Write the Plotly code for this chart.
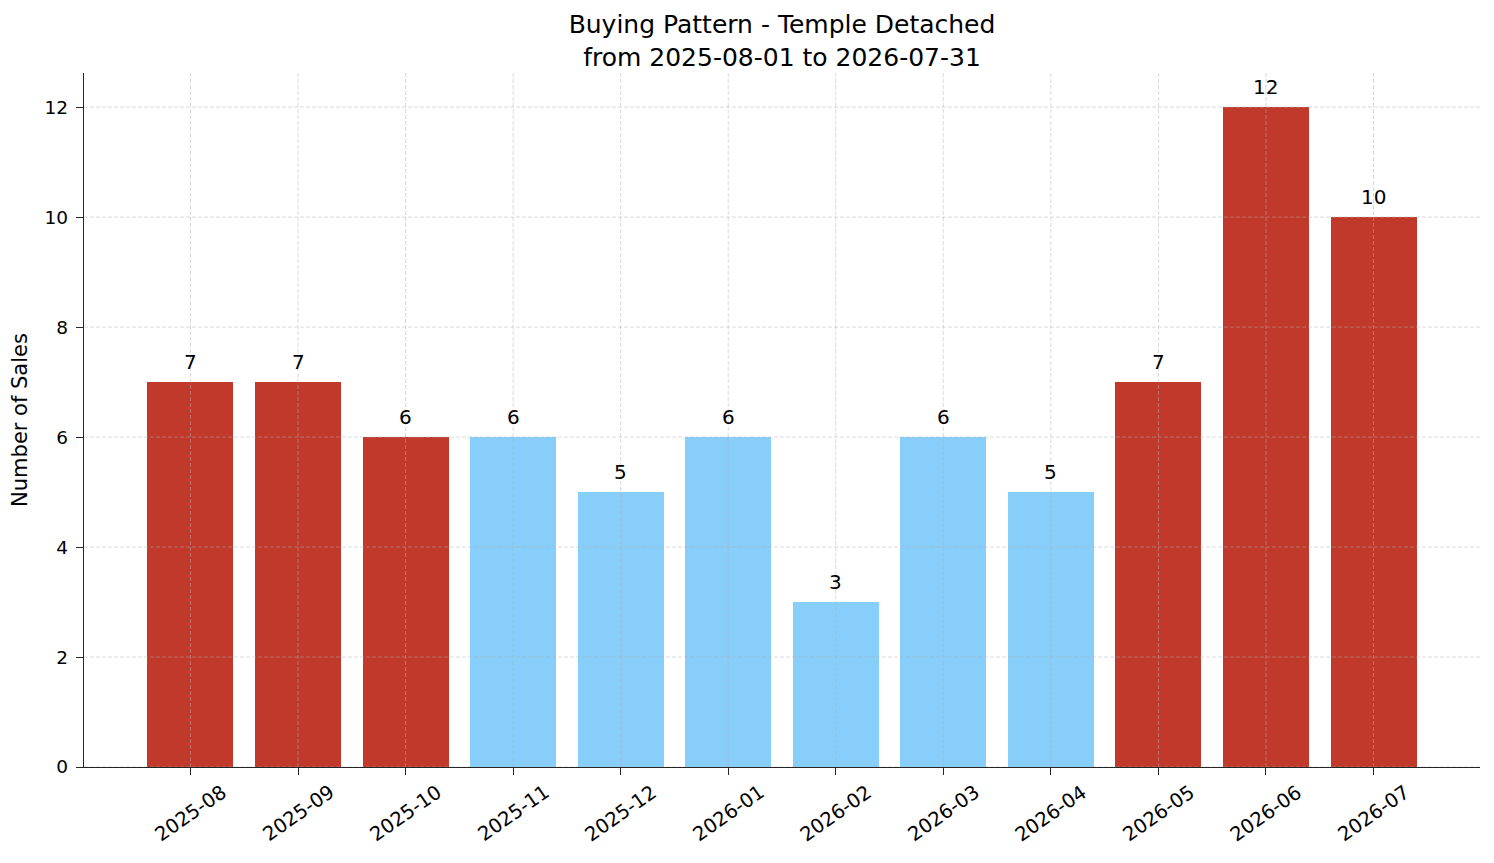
import plotly.graph_objects as go

months = ["2025-08", "2025-09", "2025-10", "2025-11", "2025-12", "2026-01",
          "2026-02", "2026-03", "2026-04", "2026-05", "2026-06", "2026-07"]
sales = [7, 7, 6, 6, 5, 6, 3, 6, 5, 7, 12, 10]
# red = busy month, blue = quiet month
busy = [True, True, True, False, False, False, False, False, False, True, True, True]
y_ticks = [0, 2, 4, 6, 8, 10, 12]

RED = "#c0392b"
BLUE = "#87cefa"
FONT = "DejaVu Sans"
GRID = "rgba(176,176,176,0.6)"
AXIS = "#262626"

xs = list(range(len(months)))
colors = [RED if b else BLUE for b in busy]
x_range = [-0.99, 11.99]
y_range = [0, 12.62]

fig = go.Figure()
fig.add_trace(go.Bar(
    x=xs, y=sales, width=0.8, marker_color=colors, marker_line_width=0,
    showlegend=False, hoverinfo="x+y",
))

# value labels above bars
for i, v in enumerate(sales):
    fig.add_annotation(x=i, y=v, text=str(v), showarrow=False,
                       yanchor="bottom", yshift=6,
                       font=dict(family=FONT, size=20, color="black"))

# tick labels as rotated annotations, centred under each tick like matplotlib
for i, m in enumerate(months):
    fig.add_annotation(x=i, y=0, xref="x", yref="paper", text=m,
                       textangle=-35, showarrow=False, xanchor="center",
                       yanchor="top", yshift=-11,
                       font=dict(family=FONT, size=19.5, color="black"))

# matplotlib draws the grid on top of the bars here
for i in xs:
    fig.add_shape(type="line", x0=i, x1=i, y0=y_range[0], y1=y_range[1],
                  xref="x", yref="y", layer="above",
                  line=dict(color=GRID, width=0.8, dash="4px,2px"))
for t in y_ticks:
    fig.add_shape(type="line", x0=x_range[0], x1=x_range[1], y0=t, y1=t,
                  xref="x", yref="y", layer="above",
                  line=dict(color=GRID, width=0.8, dash="4px,2px"))

fig.update_layout(
    width=1494, height=863,
    paper_bgcolor="white", plot_bgcolor="white",
    margin=dict(l=76, r=22, t=65, b=104, autoexpand=False),
    font=dict(family=FONT, size=18.5, color="black"),
    title=dict(text="Buying Pattern - Temple Detached<br>from 2025-08-01 to 2026-07-31",
               x=0.5, xref="paper", xanchor="center",
               y=1, yref="paper", yanchor="bottom", pad=dict(b=40),
               font=dict(family=FONT, size=25)),
    bargap=0,
)
fig.update_xaxes(range=x_range, tickvals=xs, ticktext=[""] * len(xs),
                 ticks="outside", ticklen=7, tickwidth=1.3, tickcolor=AXIS,
                 showline=True, linecolor=AXIS, linewidth=1.4, automargin=False,
                 showgrid=False, zeroline=False, layer="above traces")
fig.update_yaxes(range=y_range, tickvals=y_ticks,
                 ticks="outside", ticklen=7, tickwidth=1.3, tickcolor=AXIS,
                 ticklabelstandoff=4, automargin=False,
                 showline=True, linecolor=AXIS, linewidth=1.4,
                 showgrid=False, zeroline=False, layer="above traces",
                 title=dict(text="Number of Sales", font=dict(family=FONT, size=21), standoff=12))

fig.write_html("out.html")
